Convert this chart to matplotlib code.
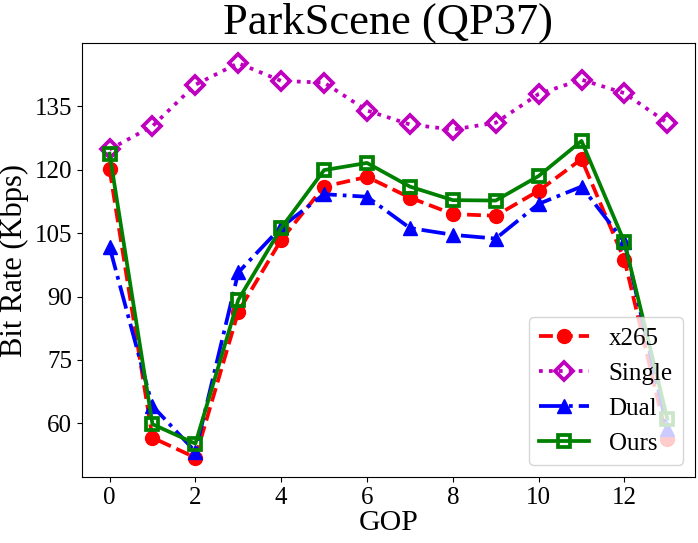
import matplotlib
matplotlib.use("Agg")
import matplotlib.pyplot as plt

gop = list(range(14))
x265 = [120.1, 56.6, 51.9, 86.4, 103.4, 116.0, 118.3, 113.4, 109.5, 109.1, 115.0, 122.5, 98.7, 56.2]
single = [124.8, 130.3, 140.1, 145.2, 141.0, 140.6, 134.0, 130.7, 129.5, 131.1, 137.9, 141.3, 138.1, 131.1]
dual = [101.7, 64.1, 53.3, 95.7, 106.4, 114.2, 113.6, 106.2, 104.6, 103.7, 111.9, 116.0, 102.9, 58.6]
ours = [123.8, 59.8, 55.2, 89.2, 106.2, 119.9, 121.6, 116.0, 112.8, 112.7, 118.5, 126.8, 102.9, 61.1]
yticks = [60, 75, 90, 105, 120, 135]
xticks = [0, 2, 4, 6, 8, 10, 12]

plt.rcParams['font.family'] = ['Liberation Serif', 'DejaVu Serif']

fig, ax = plt.subplots(figsize=(6.98, 5.43), dpi=100)
fig.subplots_adjust(left=0.117, right=0.996, bottom=0.121, top=0.920)

ax.plot(gop, x265, color='red', linestyle='--', marker='o', lw=2.7, ms=10, label='x265')
ax.plot(gop, single, color='m', linestyle=':', marker='D', lw=2.7, ms=9, mfc='none', mew=2.7, label='Single')
ax.plot(gop, dual, color='blue', linestyle='-.', marker='^', lw=2.7, ms=10, label='Dual')
ax.plot(gop, ours, color='green', linestyle='-', marker='s', lw=2.7, ms=9, mfc='none', mew=2.7, label='Ours')

ax.set_xticks(xticks)
ax.set_yticks(yticks)
ax.tick_params(labelsize=18)
ax.set_xlabel('GOP', fontsize=21.5, labelpad=1)
ax.set_ylabel('Bit Rate (Kbps)', fontsize=22, labelpad=4)
ax.set_title('ParkScene (QP37)', fontsize=32, pad=4)
ax.legend(loc='lower right', fontsize=18)

fig.savefig('out.png', dpi=100)
